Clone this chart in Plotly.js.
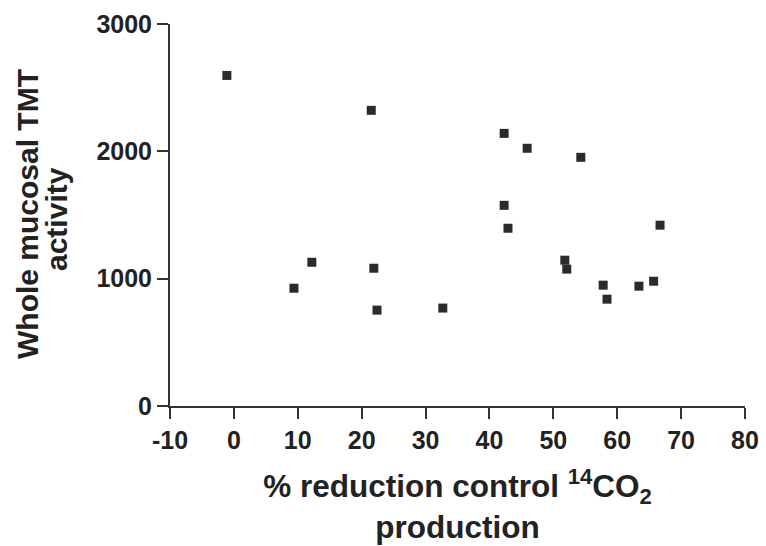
<!DOCTYPE html>
<html>
<head>
<meta charset="utf-8">
<script src="https://cdn.plot.ly/plotly-3.0.1.min.js"></script>
<style>html,body{margin:0;padding:0;background:#fff;}#chart{width:766px;height:546px;}</style>
</head>
<body>
<div id="chart"></div>
<script>
// % reduction in control 14CO2 production
var reductionPct = [-1.1, 9.4, 12.2, 21.5, 21.9, 22.4, 32.7, 42.3, 45.9, 54.3, 42.3, 42.9, 51.8, 52.1, 57.8, 58.4, 63.4, 65.7, 66.7];
// Whole mucosal TMT activity
var tmtActivity = [2596, 925, 1129, 2322, 1082, 753, 769, 2141, 2024, 1953, 1576, 1396, 1145, 1075, 949, 839, 941, 980, 1420];
var xTicks = [-10, 0, 10, 20, 30, 40, 50, 60, 70, 80];
var yTicks = [0, 1000, 2000, 3000];
var yTitleLines = ['Whole mucosal TMT', 'activity'];

var font = 'Liberation Sans, Arial, Helvetica, sans-serif';
var ink = '#222';

var trace = {
  x: reductionPct,
  y: tmtActivity,
  type: 'scatter',
  mode: 'markers',
  marker: {symbol: 'square', size: 9, color: '#2b2b2b'},
  hoverinfo: 'x+y'
};

var W = 766, H = 546;
var M = {l: 170, r: 21, t: 24, b: 140};
var pw = W - M.l - M.r, ph = H - M.t - M.b;
function px2paperX(px) { return (px - M.l) / pw; }
function px2paperY(py) { return (H - M.b - py) / ph; }

var yTitlePos = [{x: 27, y: 214}, {x: 56, y: 219}];
var annotations = yTitleLines.map(function (t, i) {
  return {
    text: '<b>' + t + '</b>',
    xref: 'paper', yref: 'paper',
    x: px2paperX(yTitlePos[i].x), y: px2paperY(yTitlePos[i].y),
    xanchor: 'center', yanchor: 'middle',
    textangle: -90,
    showarrow: false,
    font: {family: font, size: 30, color: ink}
  };
});

var layout = {
  width: W,
  height: H,
  margin: M,
  paper_bgcolor: '#fff',
  plot_bgcolor: '#fff',
  showlegend: false,
  font: {family: font, color: ink},
  annotations: annotations,
  xaxis: {
    range: [-10, 80],
    tickvals: xTicks,
    ticktext: xTicks.map(String),
    ticks: 'outside',
    ticklen: 11,
    tickwidth: 2,
    tickcolor: '#333',
    showline: true,
    linecolor: '#333',
    linewidth: 2,
    showgrid: false,
    zeroline: false,
    tickfont: {family: font, size: 25, color: ink, weight: 'bold'},
    title: {
      text: '<b>% reduction control <sup>14</sup>CO<sub>2</sub><br>production</b>',
      font: {family: font, size: 31.5, color: ink},
      standoff: 22
    }
  },
  yaxis: {
    range: [0, 3000],
    tickvals: yTicks,
    ticktext: yTicks.map(String),
    ticks: 'outside',
    ticklen: 11,
    tickwidth: 2,
    tickcolor: '#333',
    showline: true,
    linecolor: '#333',
    linewidth: 2,
    showgrid: false,
    zeroline: false,
    tickfont: {family: font, size: 25, color: ink, weight: 'bold'}
  }
};

Plotly.newPlot('chart', [trace], layout, {staticPlot: true, displayModeBar: false});
</script>
</body>
</html>
